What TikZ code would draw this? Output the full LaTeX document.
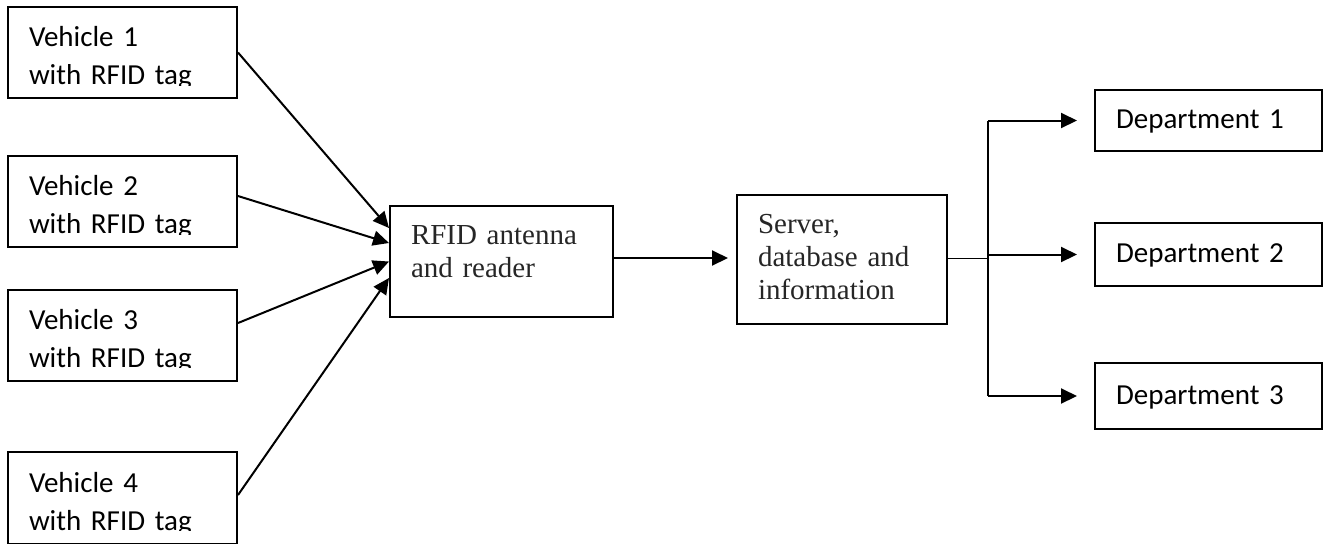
\documentclass[tikz,border=0pt]{standalone}
\usepackage{fontspec}
\usepackage{trimclip}
\setmainfont{Carlito}
\newfontfamily\timesfont{Liberation Serif}
\usetikzlibrary{positioning,arrows.meta}
\def\clipline#1{\clipbox{0pt 2pt 0pt 0pt}{#1}}

\begin{document}
\begin{tikzpicture}[x=0.5pt, y=-0.5pt,
                      box/.style = {shape=rectangle, draw, line width=1pt,
                        align=left, inner xsep=10.5pt, inner ysep=0pt},
                      vehicle/.style = {box, text width=93.5pt, minimum height=45.5pt,
                        font=\fontsize{14.5}{19}\selectfont,
                        text height=0pt, text depth=6pt},
                      dept/.style = {box, text width=92.5pt,
                        font=\fontsize{14.5}{19}\selectfont,
                        text height=8pt, text depth=0pt},
                      unit/.style = {box, text=black!85,
                        font=\timesfont\fontsize{14.5}{16.5}\selectfont,
                        text height=0pt},
                      link/.style = {line width=1pt, -{Triangle[length=8pt,width=7.5pt]}}]
  \useasboundingbox (0,0) rectangle (1323,543);
  \clip (0,0) rectangle (1323,543);

  \node[vehicle] (v1) at (122.5,52.5) {Vehicle 1\\\clipline{with RFID tag}};
  \node[vehicle] (v2) at (122.5,201.5) {Vehicle 2\\\clipline{with RFID tag}};
  \node[vehicle] (v3) at (122.5,335) {Vehicle 3\\\clipline{with RFID tag}};
  \node[vehicle, minimum height=46pt] (v4) at (122.5,498) {Vehicle 4\\\clipline{with RFID tag}};

  \node[unit, text width=90.5pt, minimum height=55.5pt, text depth=17.5pt]
    (rfid) at (501.5,261.5) {RFID antenna\\and reader};
  \node[unit, text width=84pt, minimum height=64.5pt, text depth=26.5pt]
    (server) at (842,259.5) {Server,\\database and\\information};

  \node[dept, minimum height=30.5pt] (d1) at (1208.5,120.5) {Department 1};
  \node[dept, minimum height=31.5pt] (d2) at (1208.5,254.5) {Department 2};
  \node[dept, minimum height=33pt] (d3) at (1208.5,396) {Department 3};

  \draw[link] (v1.east) -- ([yshift=16.75pt]rfid.west);
  \draw[link] ([yshift=2.75pt]v2.east) -- ([yshift=9.25pt]rfid.west);
  \draw[link] ([yshift=6pt]v3.east) -- (rfid.west);
  \draw[link] ([yshift=1.5pt]v4.east) -- ([yshift=-8.25pt]rfid.west);

  \draw[link, shorten >=4pt] ([yshift=1.75pt]rfid.east)
    -- ([yshift=1.75pt]rfid.east -| server.west);

  \draw[line width=0.5pt] ([yshift=0.75pt]server.east) -- ++(40,0) coordinate (fork);
  \draw[line width=1pt] (fork |- d1) -- (fork |- d3);
  \draw[link, shorten >=8.5pt] (fork |- d1) -- (d1);
  \draw[link, shorten >=8.5pt] (fork |- d2) -- (d2);
  \draw[link, shorten >=8.5pt] (fork |- d3) -- (d3);
\end{tikzpicture}
\end{document}
